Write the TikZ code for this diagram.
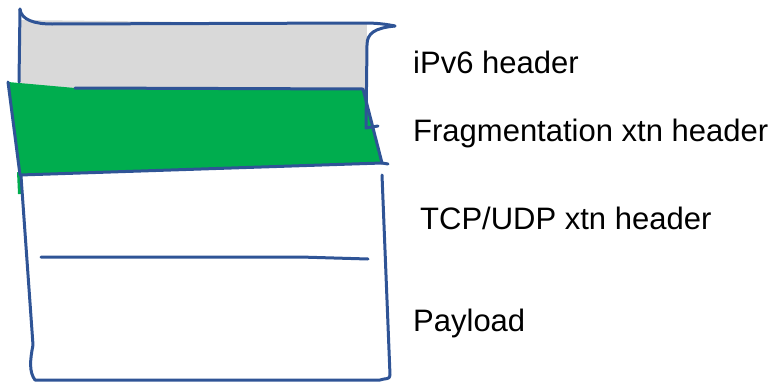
\documentclass[tikz,border=0pt]{standalone}
\usepackage{fontspec}
\setmainfont{Liberation Sans}
\definecolor[named]{InkBlue}{HTML}{2F5496}
\definecolor[named]{HdrGray}{HTML}{D9D9D9}
\definecolor[named]{FragGreen}{HTML}{00AD4E}

\begin{document}
\begin{tikzpicture}[x=1pt,y=-1pt,
    ink/.style={draw=InkBlue,line width=3pt,line join=round,line cap=round},
    lbl/.style={anchor=west,inner sep=0pt,font=\fontsize{31}{36}\selectfont}]
    \useasboundingbox (0,0) rectangle (781,383);

    % Gray IPv6 header band
    \fill[HdrGray] (19,20) -- (367,24) -- (366,90) -- (19,90) -- cycle;

    % Green fragmentation header
    \fill[FragGreen]
      (8,82) coordinate (FTL) -- (75,88) coordinate (FT) --
      (363,89) coordinate (FTR) -- (382,163) coordinate (FBR) --
      (20,175) coordinate (FBL) -- cycle;
    \fill[FragGreen] (17,172) -- (22,174) -- (22,194) -- (18,194) -- cycle;
    \draw[ink] (FT) -- (FTR) -- (FBR) -- (FBL) -- (FTL);
    \draw[ink] (FBR) -- (388,164);

    % Outer packet outline
    \draw[ink] (20,9) .. controls (21,20) and (35,24) .. (52,24)
      -- (365,23) .. controls (380,23) and (390,25) .. (395,26);
    \draw[ink] (395,26) .. controls (375,28) and (367,33) .. (367,45)
      -- (366,128) -- (378,126);
    \draw[ink] (20,9) -- (19,82);
    \draw[ink] (21,176) -- (33,345) .. controls (30,360) and (29,372) .. (35,380)
      -- (380,380) .. controls (385,378) and (390,380) .. (390,375) -- (382,175);

    % Split between TCP/UDP header and payload
    \draw[ink] (41,257) -- (300,257) -- (368,259);

    % Labels
    \node[lbl] (ipv6) at (413,62) {iPv6 header};
    \node[lbl] (frag) at (413,133) {Fragmentation xtn header};
    \node[lbl] (tcp) at (420,218) {TCP/UDP xtn header};
    \node[lbl] (payload) at (413,323) {Payload};
\end{tikzpicture}
\end{document}
